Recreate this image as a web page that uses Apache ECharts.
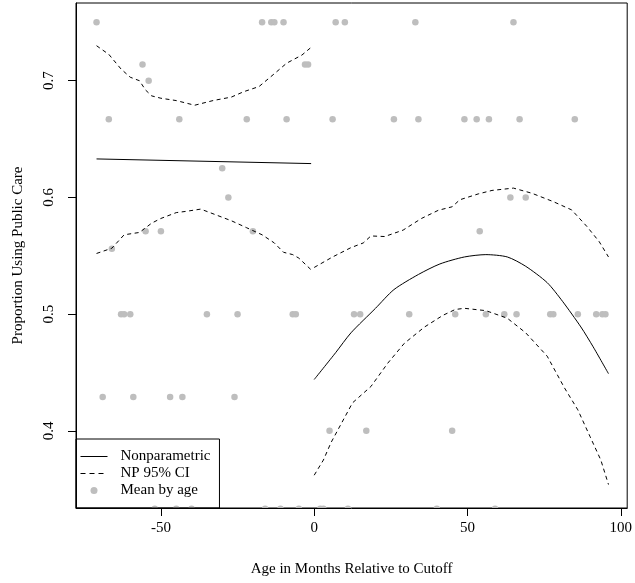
<!DOCTYPE html>
<html>
<head>
<meta charset="utf-8">
<script src="https://cdn.jsdelivr.net/npm/echarts@6/dist/echarts.min.js"></script>
<style>
html,body{margin:0;padding:0;background:#fff;}
#chart{width:635px;height:583px;}
</style>
</head>
<body>
<div id="chart"></div>
<script>
// ---- Data ----
const xTicks = [-50, 0, 50, 100];
const yTicks = [0.4, 0.5, 0.6, 0.7];

// Mean by age (age, proportion)
const meanAge = [
  -71, -17, -14, -13, -10, 7, 10, 33, 65,
  -56, -3, -2,
  -54,
  -67, -44, -22, -9, 6, 26, 34, 49, 53, 57, 67, 85,
  -30,
  -28, 64, 69,
  -55, -50, -20, 54,
  -66,
  -63, -62, -60, -35, -25, -7, -6, 13, 15, 31, 46, 56, 62, 66, 77, 78, 86, 92, 94, 95,
  -69, -59, -47, -43, -26,
  5, 17, 45,
  -52, -45, -40, -16, -11, -5, 2, 3, 11, 40, 59
];
const meanProp = [
  0.75, 0.75, 0.75, 0.75, 0.75, 0.75, 0.75, 0.75, 0.75,
  0.714, 0.714, 0.714,
  0.7,
  0.667, 0.667, 0.667, 0.667, 0.667, 0.667, 0.667, 0.667, 0.667, 0.667, 0.667, 0.667,
  0.625,
  0.6, 0.6, 0.6,
  0.571, 0.571, 0.571, 0.571,
  0.556,
  0.5, 0.5, 0.5, 0.5, 0.5, 0.5, 0.5, 0.5, 0.5, 0.5, 0.5, 0.5, 0.5, 0.5, 0.5, 0.5, 0.5, 0.5, 0.5, 0.5,
  0.429, 0.429, 0.429, 0.429, 0.429,
  0.4, 0.4, 0.4,
  0.3333, 0.3333, 0.3333, 0.3333, 0.3333, 0.3333, 0.3333, 0.3333, 0.3333, 0.3333, 0.3333
];

// Nonparametric fit, left of cutoff
const npLeftX = [-71, -1];
const npLeftY = [0.633, 0.629];
// Nonparametric fit, right of cutoff
const npRightX = [0, 7, 12, 20, 26, 34, 41, 49, 56, 63, 69, 76, 81, 87, 91, 96];
const npRightY = [0.444, 0.467, 0.484, 0.505, 0.521, 0.534, 0.543, 0.549, 0.551, 0.549, 0.541, 0.527, 0.511, 0.489, 0.472, 0.449];

// 95% CI, left of cutoff
const ciLeftUpX = [-71, -67, -63, -60, -57, -55, -53, -50, -45, -39, -33, -27, -23, -18, -13, -9, -4, -1];
const ciLeftUpY = [0.730, 0.7226, 0.710, 0.703, 0.700, 0.692, 0.687, 0.685, 0.683, 0.679, 0.683, 0.686, 0.6906, 0.695, 0.706, 0.715, 0.722, 0.7286];
const ciLeftLoX = [-71, -66, -62, -57, -53, -50, -45, -42, -37, -32, -27, -22, -17, -13, -10, -7, -5, -1];
const ciLeftLoY = [0.552, 0.5565, 0.568, 0.570, 0.578, 0.582, 0.587, 0.588, 0.590, 0.585, 0.580, 0.574, 0.568, 0.561, 0.553, 0.551, 0.548, 0.538];
// 95% CI, right of cutoff
const ciRightUpX = [0, 6, 12, 16, 18.5, 23, 29, 35, 40.5, 45, 47.5, 53.5, 58, 65, 71, 78, 84, 89, 93, 96];
const ciRightUpY = [0.540, 0.549, 0.557, 0.561, 0.567, 0.5665, 0.572, 0.582, 0.589, 0.592, 0.598, 0.603, 0.606, 0.608, 0.6036, 0.5964, 0.5893, 0.575, 0.562, 0.549];
const ciRightLoX = [0, 3, 5.5, 9, 12.5, 18.5, 24, 29.4, 36, 42, 46, 49, 56, 63, 69, 76, 81.6, 86, 90, 93.5, 96];
const ciRightLoY = [0.362, 0.375, 0.390, 0.407, 0.424, 0.438, 0.458, 0.475, 0.489, 0.499, 0.504, 0.505, 0.503, 0.4965, 0.484, 0.464, 0.437, 0.418, 0.395, 0.375, 0.354];

// ---- Chart ----
const FONT = 'Liberation Serif';
const FS = 15;
const xMin = -77.7, xMax = 102.1, yMin = 0.3339, yMax = 0.7666;

function zip(xs, ys) { return xs.map((x, i) => [x, ys[i]]); }

function lineSeries(name, xs, ys, dashed, smooth) {
  return {
    name: name, type: 'line', data: zip(xs, ys),
    symbol: 'none', showSymbol: false, smooth: smooth || false, z: 3,
    lineStyle: { color: '#000', width: 1, type: dashed ? [4, 3.5] : 'solid' },
    itemStyle: { color: '#000' },
    emphasis: { disabled: true }, animation: false
  };
}

const chart = echarts.init(document.getElementById('chart'), null, { renderer: 'canvas' });
chart.setOption({
  animation: false,
  backgroundColor: '#fff',
  grid: { left: 76, top: 3, width: 556, height: 505, show: true, borderColor: '#000', borderWidth: 1, backgroundColor: 'transparent' },
  xAxis: {
    type: 'value', min: xMin, max: xMax, z: 10,
    name: 'Age in Months Relative to Cutoff', nameLocation: 'middle', nameGap: 54,
    nameTextStyle: { fontFamily: FONT, fontSize: FS, color: '#000' },
    axisLine: { show: true, onZero: false, lineStyle: { color: '#000', width: 1 } },
    axisTick: { show: true, inside: false, length: 8, customValues: xTicks, lineStyle: { color: '#000' } },
    axisLabel: { customValues: xTicks, fontFamily: FONT, fontSize: FS, color: '#000', margin: 13 },
    splitLine: { show: false }
  },
  yAxis: {
    type: 'value', min: yMin, max: yMax, z: 10,
    name: 'Proportion Using Public Care', nameLocation: 'middle', nameGap: 50, nameRotate: 90,
    nameTextStyle: { fontFamily: FONT, fontSize: FS, color: '#000' },
    axisLine: { show: true, onZero: false, lineStyle: { color: '#000', width: 1 } },
    axisTick: { show: true, inside: false, length: 8, customValues: yTicks, lineStyle: { color: '#000' } },
    axisLabel: { customValues: yTicks, rotate: 90, fontFamily: FONT, fontSize: FS, color: '#000', margin: 19,
      formatter: v => v.toFixed(1) },
    splitLine: { show: false }
  },
  legend: {
    orient: 'vertical', left: 76, top: 439,
    itemWidth: 27, itemHeight: 7, itemGap: 0,
    padding: [9, 9, 9, 4],
    borderColor: '#000', borderWidth: 1, backgroundColor: 'transparent',
    selectedMode: false,
    lineStyle: { width: 1 },
    textStyle: { fontFamily: FONT, fontSize: FS, color: '#000', lineHeight: 17, padding: [0, 0, 0, 8] },
    data: [
      { name: 'Nonparametric', itemStyle: { opacity: 0 } },
      { name: 'NP 95% CI', itemStyle: { opacity: 0 }, lineStyle: { width: 1, type: [5, 4] } },
      { name: 'Mean by age', icon: 'circle' }
    ]
  },
  series: [
    {
      name: 'Mean by age', type: 'scatter', data: zip(meanAge, meanProp),
      symbol: 'circle', symbolSize: 6.5, clip: false, z: 2,
      itemStyle: { color: '#bebebe', opacity: 1 },
      emphasis: { disabled: true }
    },
    lineSeries('Nonparametric', npLeftX, npLeftY, false),
    lineSeries('Nonparametric', npRightX, npRightY, false, 0.25),
    lineSeries('NP 95% CI', ciLeftUpX, ciLeftUpY, true),
    lineSeries('NP 95% CI', ciLeftLoX, ciLeftLoY, true),
    lineSeries('NP 95% CI', ciRightUpX, ciRightUpY, true),
    lineSeries('NP 95% CI', ciRightLoX, ciRightLoY, true)
  ]
});

// Mask the part of the boundary points that falls below the plot region (as R clips them)
const yb = chart.convertToPixel({ gridIndex: 0 }, [0, yMin])[1];
chart.setOption({
  graphic: [{
    type: 'rect', z: 5, silent: true,
    shape: { x: 0, y: yb + 0.5, width: 635, height: 583 - yb },
    style: { fill: '#fff' }
  }]
});
</script>
</body>
</html>
